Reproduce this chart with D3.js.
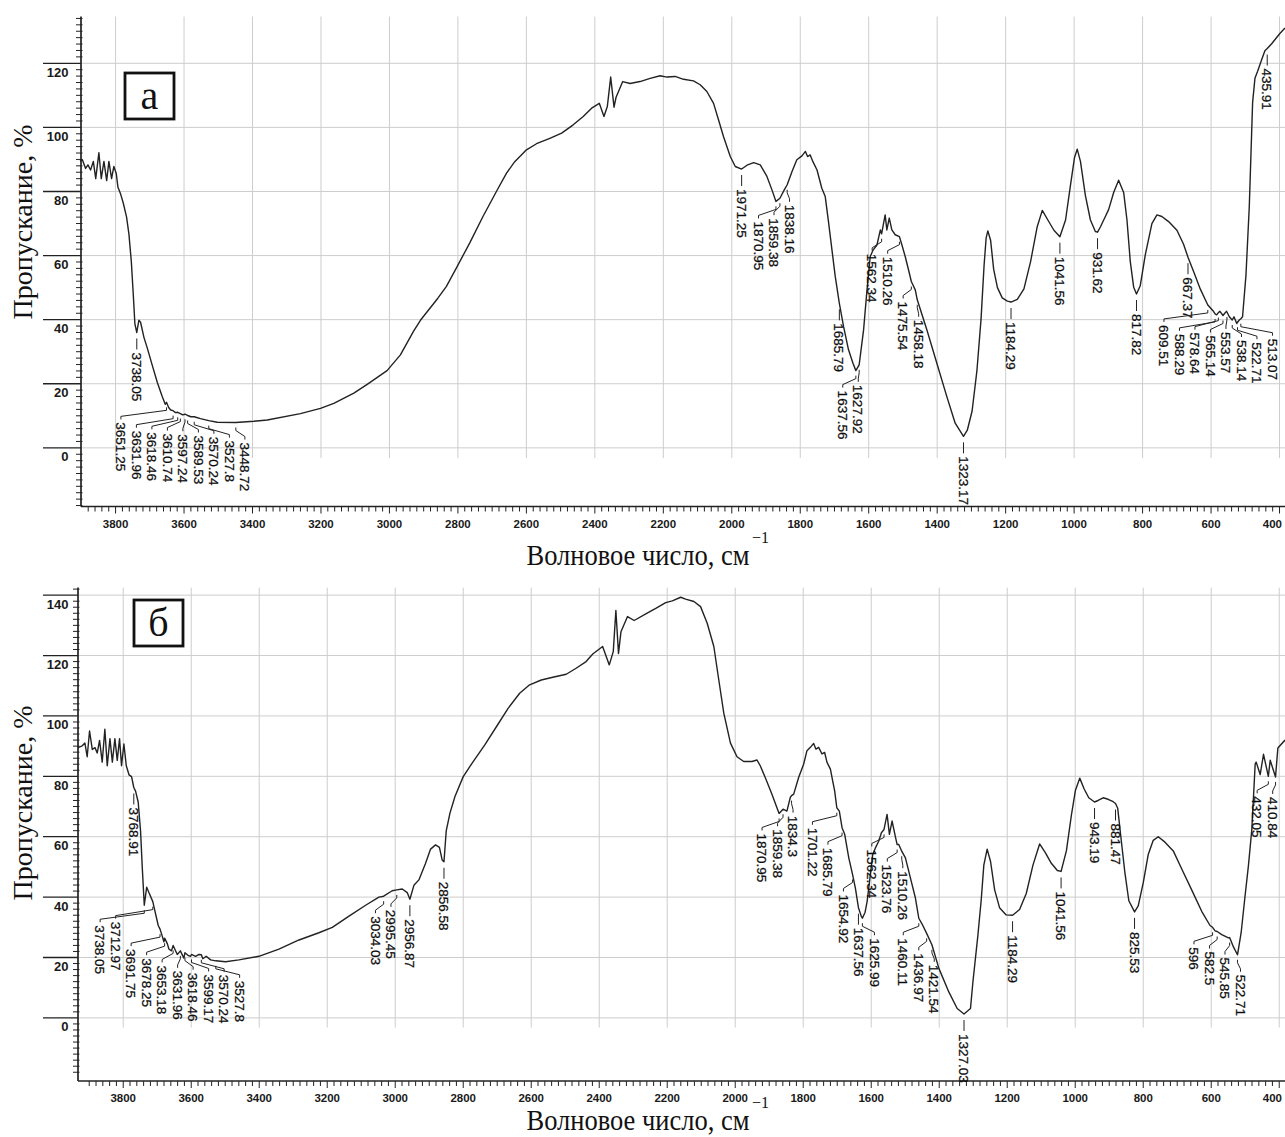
<!DOCTYPE html>
<html><head><meta charset="utf-8">
<script src="https://cdn.jsdelivr.net/npm/d3@7"></script>
<style>
html,body{margin:0;padding:0;background:#fff;overflow:hidden}
svg{display:block}
</style></head><body>
<svg id="chart" width="1285" height="1137"></svg>
<script>
// ---------------- DATA ----------------
const spectrumA = [[3904,89.5],[3897,89.9],[3887.6,87.2],[3880.8,88.3],[3873,86.7],[3865,89.4],[3858,84.0],[3848.7,92.1],[3841.8,84.0],[3834,89.4],[3826,83.4],[3819.5,89.4],[3811.7,84.0],[3805,87.8],[3798,85.6],[3793,81.3],[3785,79.1],[3777.6,76.4],[3768,72.1],[3761,66.7],[3754,58.1],[3748,47.3],[3743.6,38.7],[3738.05,36.0],[3732,39.8],[3727,39.2],[3717,34.4],[3707.5,31.2],[3693,25.8],[3678,20.4],[3664,16.1],[3655,13.6],[3651.25,14.2],[3645,12.6],[3639,11.8],[3631.96,11.6],[3625,11.0],[3618.46,11.1],[3610.74,10.7],[3604,10.3],[3597.24,10.5],[3589.53,10.1],[3580,9.7],[3570.24,9.7],[3552,9.1],[3527.8,8.5],[3503,8.0],[3448.72,7.9],[3396,8.3],[3357,8.7],[3260,10.7],[3201.5,12.3],[3162.5,13.9],[3104,17.1],[3065,19.8],[3007,24.1],[2968,29.0],[2929,36.5],[2909.5,39.8],[2858.6,46.7],[2834,50.3],[2804.7,56.1],[2765.7,63.9],[2726.8,72.2],[2687.6,80.0],[2658,85.7],[2634,89.3],[2599.7,93.0],[2570.4,94.9],[2531.5,96.6],[2497,98.2],[2463.2,100.8],[2434,103.4],[2409.4,106.0],[2387,107.5],[2373.4,103.4],[2363.6,106.5],[2353.7,115.7],[2344,106.3],[2338,109.4],[2318.6,114.3],[2297,113.7],[2268,114.3],[2238.5,115.3],[2209.3,116.1],[2189.7,115.7],[2165.4,115.9],[2141,115.0],[2111.9,114.5],[2092.3,113.3],[2072.8,111.2],[2053.2,107.5],[2038.6,102.3],[2024,97.1],[2004.4,90.9],[1989.8,87.8],[1971.25,87.0],[1955.6,88.2],[1936,89.0],[1916.8,88.3],[1897.3,84.7],[1882.7,80.5],[1870.95,76.9],[1859.38,77.9],[1846.7,80.5],[1838.16,82.1],[1824,86.2],[1810,89.9],[1795,91.1],[1785,92.5],[1778.6,90.9],[1771,91.4],[1763,89.3],[1751,86.7],[1737,81.0],[1727,78.4],[1717,70.1],[1707.4,61.8],[1697.8,53.5],[1685.79,45.1],[1673.6,37.9],[1659,30.6],[1646,26.4],[1637.56,24.1],[1627.92,25.9],[1615,36.8],[1605,49.3],[1595.6,59.7],[1587.8,61.6],[1576,63.3],[1566,68.0],[1562.34,66.8],[1552,72.7],[1547,68.0],[1540,71.7],[1532.4,68.0],[1522.6,66.5],[1510.26,65.9],[1503,63.3],[1493.4,59.7],[1483.6,55.5],[1475.54,51.9],[1464,49.3],[1458.18,46.2],[1430,36.8],[1401,26.4],[1371.8,16.0],[1347.4,7.7],[1323.17,3.6],[1312,5.5],[1298,11.5],[1284,24],[1272,40],[1263,57],[1257,65.5],[1252,67.7],[1244,64.8],[1235,55.7],[1224,50],[1210,46.8],[1195,45.8],[1184.29,45.5],[1166,46.3],[1146.6,49.6],[1127,58.2],[1107.8,69.0],[1093,74.1],[1076.7,71.1],[1059,67.9],[1041.56,65.9],[1025,71.1],[1010.7,81.9],[999,90.5],[991,93.2],[981.5,89.4],[967,78.7],[952.4,71.1],[938,67.5],[931.62,67.3],[923,69.0],[908.7,72.2],[899,74.4],[884.5,79.7],[870,83.5],[855.3,79.7],[845.6,71.1],[836,58.2],[826,50.1],[817.82,48.0],[806.8,50.6],[792,60.3],[772.8,70.0],[758,72.7],[743.7,72.2],[724,70.6],[699.7,67.9],[680.6,63.6],[667.37,59.5],[651,55.0],[631.6,49.6],[612.6,45.3],[609.51,44.6],[593,42.6],[588.29,41.8],[583.5,41.5],[578.64,42.2],[574,42.6],[565.14,41.3],[560,42.0],[554.4,42.6],[553.57,42.4],[546.6,40.9],[538.14,39.9],[533,40.9],[525,38.8],[522.71,39.2],[517.5,39.9],[513.07,40.3],[508,40.9],[498,53.9],[488.3,75.4],[478.6,107.8],[471.8,115.3],[464,117.5],[452,121.2],[442.7,123.9],[435.91,124.6],[423,126.1],[399,129.3],[384,131]];

const peaksA = ["3738.05","3651.25","3631.96","3618.46","3610.74","3597.24","3589.53","3570.24","3527.8","3448.72","1971.25","1870.95","1859.38","1838.16","1685.79","1637.56","1627.92","1562.34","1510.26","1475.54","1458.18","1323.17","1184.29","1041.56","931.62","817.82","667.37","609.51","588.29","578.64","565.14","553.57","538.14","522.71","513.07","435.91"];

const spectrumB = [[3933,89.5],[3920.6,90.1],[3912.7,91.0],[3906,86.5],[3899,95.0],[3891,88.9],[3883,89.5],[3876.5,87.7],[3869.6,91.9],[3861.8,84.7],[3854,95.6],[3847,83.5],[3839,92.5],[3832,84.7],[3824.5,92.5],[3817.6,85.3],[3810.8,92.5],[3805,83.5],[3798,90.7],[3791,83.5],[3783,80.5],[3775.5,79.9],[3768.91,76.3],[3763.7,75.1],[3756,71.5],[3749,61.9],[3744,49.9],[3738.05,37.3],[3731,43.3],[3724.5,41.5],[3712.97,38.5],[3707,35.5],[3697,30.6],[3691.75,29.4],[3685,27.0],[3680.4,25.2],[3678.25,26.4],[3670,24.5],[3665.7,22.8],[3658,22.2],[3653.18,24.0],[3641,21.0],[3631.96,22.2],[3621.6,19.8],[3618.46,21.6],[3608,20.6],[3602,20.4],[3599.17,21.0],[3587,20.4],[3577.5,21.0],[3570.24,20.9],[3565.7,19.6],[3556,20.4],[3543,19.2],[3527.8,18.9],[3499,18.6],[3459.8,19.2],[3401,20.4],[3342,22.8],[3283,25.8],[3224.5,28.2],[3185,30.0],[3136,33.7],[3087,37.3],[3048,40.0],[3034.03,40.3],[3009,42.1],[2995.45,42.4],[2979.4,42.7],[2964.7,41.5],[2956.87,39.3],[2945,43.9],[2930.4,45.7],[2911,51.1],[2896,55.9],[2881.4,57.3],[2870,56.5],[2862,52.3],[2856.58,51.7],[2850,61.9],[2839,67.8],[2824.3,73.3],[2800,79.9],[2770.7,84.9],[2736.5,90.4],[2702,96.5],[2668,102.5],[2634,107.5],[2604.7,110.3],[2570.4,111.9],[2536.5,112.8],[2497,113.8],[2468,115.8],[2438.6,118.0],[2419,120.5],[2390,123.0],[2370.4,116.9],[2358.7,121.3],[2351,134.9],[2343.3,120.7],[2336,127.9],[2316.8,132.9],[2297.2,131.6],[2263,133.8],[2233.7,135.6],[2204.4,137.5],[2185,138.1],[2160.5,139.3],[2146,138.7],[2121.5,137.9],[2101.9,136.2],[2082.4,130.7],[2062.9,123.0],[2048.3,111.9],[2033.6,100.9],[2014,91.0],[1994.7,86.5],[1975,84.9],[1950.8,84.9],[1936,85.4],[1926.4,83.5],[1911.7,79.6],[1892,74.1],[1877.3,69.6],[1870.95,67.7],[1859.38,69.1],[1848,68.5],[1838,73.0],[1834.3,73.6],[1828,74.1],[1813.5,79.6],[1798.8,84.0],[1789,88.5],[1779,89.6],[1769.4,90.9],[1762.5,89.0],[1754.6,89.6],[1744.8,87.4],[1737,87.9],[1730,84.6],[1720,82.4],[1713.4,78.5],[1707.5,75.2],[1701.22,69.6],[1693.8,68.5],[1685.79,63.0],[1678,60.8],[1666,53.0],[1654.92,47.5],[1646.6,43.0],[1637.56,36.5],[1629,33.6],[1625.99,33.0],[1618,35.0],[1612,38.6],[1602.5,47.5],[1595.6,54.1],[1587.7,56.3],[1578,58.5],[1570,61.3],[1562.34,62.4],[1553.4,67.4],[1546.5,60.8],[1538.7,65.2],[1529,60.0],[1523.76,57.4],[1519,57.4],[1510.26,55.2],[1499.4,53.0],[1484.6,46.3],[1470,39.7],[1460.11,33.0],[1450,31.0],[1436.97,28.0],[1421.54,24.2],[1401,16.4],[1371.8,8.6],[1347.2,3.1],[1327.03,1.3],[1308,3.1],[1301,11.8],[1286.5,27.1],[1276.7,38.8],[1268.8,50.6],[1259,55.9],[1249,51.8],[1237,42.4],[1222.6,36.5],[1203,34.1],[1184.29,34.0],[1163.6,35.9],[1144,41.2],[1124.3,50.6],[1104.7,57.6],[1088,54.7],[1070.3,51.2],[1052.6,48.8],[1041.56,48.5],[1026,55.3],[1011.3,67.1],[999.5,75.3],[986.7,79.4],[974,75.9],[960.2,72.9],[943.19,71.5],[932.7,72.0],[918,72.9],[903.2,72.4],[888.4,71.6],[881.47,71.0],[875,69.4],[865.8,60.0],[854,48.2],[842.3,38.8],[825.53,35.1],[814.7,37.1],[800,44.7],[785.3,54.1],[770.5,58.8],[755.8,60.0],[736,58.2],[711.6,55.3],[687,49.4],[657.5,42.4],[628,35.3],[603.5,30.6],[596,30.0],[588.7,28.8],[582.5,28.6],[569,27.6],[549.4,26.5],[545.85,26.6],[534.6,23.5],[522.71,20.9],[512,28.2],[502,38.8],[490.4,50.6],[480.6,62.4],[470.7,84.1],[467.8,84.7],[456,80.6],[446.2,87.3],[432.05,80.0],[426.5,85.3],[410.84,79.8],[404,89.4],[383,92.0]];

const peaksB = ["3768.91","3738.05","3712.97","3691.75","3678.25","3653.18","3631.96","3618.46","3599.17","3570.24","3527.8","3034.03","2995.45","2956.87","2856.58","1870.95","1859.38","1834.3","1701.22","1685.79","1654.92","1637.56","1625.99","1562.34","1523.76","1510.26","1460.11","1436.97","1421.54","1327.03","1184.29","1041.56","943.19","881.47","825.53","596","582.5","545.85","522.71","432.05","410.84"];

const xTickValues = [3800,3600,3400,3200,3000,2800,2600,2400,2200,2000,1800,1600,1400,1200,1000,800,600,400];
const yTicksA = [0,20,40,60,80,100,120];
const yTicksB = [0,20,40,60,80,100,120,140];
const panelLetters = ["а","б"];
const yTitleText = "Пропускание, %";
const xTitleText = "Волновое число, см";
const xTitleSup = "−1";

// ---------------- LAYOUT ----------------
const W = 1285, H = 1137;
const svg = d3.select("#chart");
const SERIF = "Liberation Serif, Times New Roman, serif";
const SANS = "Liberation Sans, Arial, sans-serif";
const panels = [
  {spec: spectrumA, peaks: peaksA, yTicks: yTicksA, letter: panelLetters[0],
   xDom: [3901, 384], xRng: [81, W], yDom: [-18.3, 134.6], yRng: [506.5, 16.5],
   box: [125, 73, 49, 46], yTitleY: 222},
  {spec: spectrumB, peaks: peaksB, yTicks: yTicksB, letter: panelLetters[1],
   xDom: [3933, 383], xRng: [78, W], yDom: [-20.9, 142.5], yRng: [1081, 587.6],
   box: [134, 600, 49, 46], yTitleY: 803}
];

function interp(spec, w) {
  for (let i = 0; i < spec.length - 1; i++) {
    const a = spec[i], b = spec[i+1];
    if (w <= a[0] && w >= b[0]) {
      const t = (a[0] - w) / (a[0] - b[0] || 1);
      return a[1] + t * (b[1] - a[1]);
    }
  }
  return spec[spec.length-1][1];
}

panels.forEach(p => {
  const x = d3.scaleLinear().domain(p.xDom).range(p.xRng);
  const y = d3.scaleLinear().domain(p.yDom).range(p.yRng);
  const g = svg.append("g");
  const x0 = p.xRng[0];
  const yTop = p.yRng[1], yBot = p.yRng[0];

  // grid
  const grid = g.append("g").attr("stroke", "#cdcdcd").attr("stroke-width", 1);
  p.yTicks.forEach(t => {
    grid.append("line").attr("x1", x0).attr("x2", W).attr("y1", y(t)).attr("y2", y(t));
  });
  xTickValues.forEach(t => {
    grid.append("line").attr("x1", x(t)).attr("x2", x(t)).attr("y1", yTop).attr("y2", y(-3.2));
  });

  // y axis
  const ax = g.append("g").attr("stroke", "#222").attr("stroke-width", 1.3);
  ax.append("line").attr("x1", x0).attr("x2", x0).attr("y1", yTop).attr("y2", yBot).attr("stroke-width", 1.7);
  for (let v = Math.ceil(p.yDom[0] / 2) * 2; v <= p.yDom[1]; v += 2) {
    if (v % 20 === 0) continue;
    ax.append("line").attr("x1", x0 - 5).attr("x2", x0 + 1.5).attr("y1", y(v)).attr("y2", y(v)).attr("stroke-width", 1);
  }
  p.yTicks.forEach(t => {
    ax.append("line").attr("x1", 43).attr("x2", x0).attr("y1", y(t)).attr("y2", y(t));
  });
  // x axis
  ax.append("line").attr("x1", x0).attr("x2", W).attr("y1", yBot).attr("y2", yBot).attr("stroke-width", 1.7);
  for (let v = 3900; v >= 400; v -= 20) {
    if (x(v) < x0 + 1) continue;
    const len = v % 200 === 0 ? 7 : 5;
    ax.append("line").attr("x1", x(v)).attr("x2", x(v)).attr("y1", yBot).attr("y2", yBot + len).attr("stroke-width", 1);
  }

  // tick labels
  const tl = g.append("g").attr("font-family", SANS).attr("font-weight", "bold").attr("fill", "#1a1a1a");
  p.yTicks.forEach(t => {
    tl.append("text").attr("x", 68.5).attr("y", y(t) + 9).attr("dy", "0.35em")
      .attr("font-size", 13).attr("text-anchor", "end").text(t);
  });
  xTickValues.forEach(t => {
    const txt = tl.append("text").attr("y", yBot + 17).attr("dy", "0.35em")
      .attr("font-size", 11.5).attr("text-anchor", "middle").text(t);
    const half = txt.node().getComputedTextLength() / 2;
    txt.attr("x", Math.min(x(t), W - 3 - half));
  });

  // titles
  g.append("text").attr("transform", `translate(22,${p.yTitleY}) rotate(-90)`)
    .attr("text-anchor", "middle").attr("dy", "0.35em")
    .attr("font-family", SERIF).attr("font-size", 28)
    .attr("fill", "#111").text(yTitleText);
  const base = Math.min(yBot + 58, H - 7);
  g.append("text").attr("transform", `translate(638,${base}) scale(1,1.15)`)
    .attr("text-anchor", "middle").attr("font-family", SERIF).attr("font-size", 26.5)
    .attr("fill", "#111").text(xTitleText);
  g.append("text").attr("x", 752).attr("y", base - 22).attr("font-family", SERIF)
    .attr("font-size", 16).attr("fill", "#111").text(xTitleSup);

  // letter box
  const [bx, by, bw, bh] = p.box;
  g.append("rect").attr("x", bx).attr("y", by).attr("width", bw).attr("height", bh)
    .attr("fill", "#fff").attr("stroke", "#111").attr("stroke-width", 2.8);
  g.append("text").attr("x", bx + bw / 2).attr("y", by + bh / 2).attr("dy", "0.32em")
    .attr("text-anchor", "middle").attr("font-family", SERIF)
    .attr("font-size", 40).attr("fill", "#111").text(p.letter);

  // spectrum
  const line = d3.line().x(d => x(d[0])).y(d => y(d[1]));
  g.append("path").datum(p.spec).attr("d", line).attr("fill", "none")
    .attr("stroke", "#222").attr("stroke-width", 1.4).attr("stroke-linejoin", "round");

  // peak labels
  const GAP = 20, SP = 15.5, BIAS = 7, TOL = 2, MAXX = W - 10, MINX = x0 + 8;
  const lg = g.append("g").attr("font-family", SANS).attr("font-size", 13.5)
    .attr("fill", "#0d0d0d").attr("stroke", "#0d0d0d").attr("stroke-width", 0.25);
  const items = p.peaks.map(s => {
    const w = +s;
    const px = x(w), py = y(interp(p.spec, w));
    const t = lg.append("text").text(s);
    return {s, w, px, py, ly: py + GAP, t, len: t.node().getComputedTextLength()};
  }).sort((a, b) => a.px - b.px);
  function place(gr) {
    const n = gr.length;
    const c = d3.mean(gr, d => d.px) - (n > 1 ? BIAS : 0);
    let start = c - (n - 1) * SP / 2;
    const end = start + (n - 1) * SP;
    if (end > MAXX) start -= end - MAXX;
    if (start < MINX) start = MINX;
    gr.forEach((d, i) => d.lx = start + i * SP);
  }
  let groups = items.map(d => [d]);
  groups.forEach(place);
  const conflict = (a, b) => Math.abs(a.lx - b.lx) < SP - 0.5 &&
    (Math.min(a.ly + a.len, b.ly + b.len) - Math.max(a.ly, b.ly)) > TOL;
  let changed = true, guard = 0;
  while (changed && guard++ < 500) {
    changed = false;
    outer:
    for (let i = 0; i < groups.length; i++) {
      for (let j = i + 1; j < groups.length; j++) {
        if (groups[i].some(a => groups[j].some(b => conflict(a, b)))) {
          const merged = groups[i].concat(groups[j]).sort((a, b) => a.px - b.px);
          groups.splice(j, 1);
          groups[i] = merged;
          place(merged);
          changed = true;
          break outer;
        }
      }
    }
  }
  const leaders = g.append("g").attr("stroke", "#222").attr("stroke-width", 1).attr("fill", "none");
  items.forEach(d => {
    const dPath = Math.abs(d.lx - d.px) < 0.5
      ? `M${d.px},${d.py + 6}V${d.ly - 3}`
      : `M${d.px},${d.py + 5}V${d.py + 8}L${d.lx},${d.ly - 6}V${d.ly - 3}`;
    leaders.append("path").attr("d", dPath);
    d.t.attr("transform", `translate(${d.lx},${d.ly}) rotate(90)`).attr("dy", "0.36em");
  });
});
</script>
</body></html>
